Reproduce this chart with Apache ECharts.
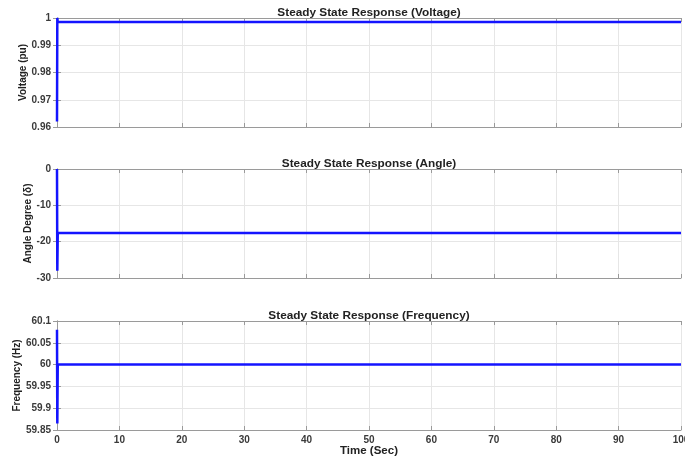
<!DOCTYPE html>
<html>
<head>
<meta charset="utf-8">
<script src="https://cdn.jsdelivr.net/npm/echarts@6/dist/echarts.min.js"></script>
<style>
  html, body { margin: 0; padding: 0; background: #fff; }
  #chart { width: 685px; height: 456px; }
</style>
</head>
<body>
<div id="chart"></div>
<script>
// Time samples (s) and the three responses
const timeSec      = [0, 0.05, 0.12, 0.2, 100];
const voltagePu    = [0.962, 1.0, 0.9985, 0.9985, 0.9985];
const angleDeg     = [0, -28, -17.6, -17.6, -17.6];
const frequencyHz  = [60.08, 59.865, 60.0, 60.0, 60.0];

const titles = [
  'Steady State Response (Voltage)',
  'Steady State Response (Angle)',
  'Steady State Response (Frequency)'
];
const yNames = ['Voltage (pu)', 'Angle Degree (\u03b4)', 'Frequency (Hz)'];
const yRanges = [[0.96, 1, 0.01], [-30, 0, 10], [59.85, 60.1, 0.05]];
const xRange = [0, 100, 10];
const xName = 'Time (Sec)';

const font = 'Liberation Sans, Arial, sans-serif';
const axisColor = '#9a9a9a';
const gridColor = '#e6e6e6';
const labelColor = '#3a3a3a';
const lineColor = '#1414ff';

const gridTops = [18, 169, 321];
const gridH = 109;
const gridL = 57, gridR = 4;
const nameGaps = [29, 24, 35];

const pair = (ys) => timeSec.map((t, i) => [t, ys[i]]);
const seriesData = [pair(voltagePu), pair(angleDeg), pair(frequencyHz)];

const fmt = (v) => String(parseFloat(v.toFixed(4)));

const grid = [], xAxis = [], yAxis = [], series = [], title = [];
for (let k = 0; k < 3; k++) {
  grid.push({ left: gridL, right: gridR, top: gridTops[k], height: gridH, outerBoundsMode: 'none', containLabel: false });
  title.push({
    text: titles[k],
    left: gridL + (685 - gridL - gridR) / 2,
    textAlign: 'center',
    padding: 0,
    top: gridTops[k] - 11,
    textStyle: { fontFamily: font, fontSize: 11.8, fontWeight: 'bold', color: '#222' }
  });
  const last = k === 2;
  // bottom x axis with grid lines
  xAxis.push({
    type: 'value', gridIndex: k, min: xRange[0], max: xRange[1], interval: xRange[2],
    position: 'bottom',
    name: last ? xName : '', nameLocation: 'middle', nameGap: 15, nameMoveOverlap: false,
    nameTextStyle: { fontFamily: font, fontSize: 11.5, fontWeight: 'bold', color: '#222' },
    axisLine: { show: true, onZero: false, lineStyle: { color: axisColor, width: 1 } },
    axisTick: { show: true, inside: true, length: 4, lineStyle: { color: axisColor } },
    axisLabel: { show: last, margin: 5, fontFamily: font, fontSize: 10, fontWeight: 'bold', color: labelColor },
    splitLine: { show: true, lineStyle: { color: gridColor, width: 1 } }
  });
  // top box edge
  xAxis.push({
    type: 'value', gridIndex: k, min: xRange[0], max: xRange[1], interval: xRange[2],
    position: 'top',
    axisLine: { show: true, onZero: false, lineStyle: { color: axisColor, width: 1 } },
    axisTick: { show: true, inside: true, length: 4, lineStyle: { color: axisColor } },
    axisLabel: { show: false }, splitLine: { show: false }
  });
  const [ymin, ymax, yint] = yRanges[k];
  yAxis.push({
    type: 'value', gridIndex: k, min: ymin, max: ymax, interval: yint,
    position: 'left',
    name: yNames[k], nameLocation: 'middle', nameGap: nameGaps[k], nameRotate: 90, nameMoveOverlap: false,
    nameTextStyle: { fontFamily: font, fontSize: 10, fontWeight: 'bold', color: '#222' },
    axisLine: { show: true, lineStyle: { color: axisColor, width: 1 } },
    axisTick: { show: true, inside: true, length: 4, lineStyle: { color: axisColor } },
    axisLabel: { margin: 6, fontFamily: font, fontSize: 10, fontWeight: 'bold', color: labelColor, formatter: fmt },
    splitLine: { show: true, lineStyle: { color: gridColor, width: 1 } }
  });
  // right box edge
  yAxis.push({
    type: 'value', gridIndex: k, min: ymin, max: ymax, interval: yint,
    position: 'right',
    axisLine: { show: true, lineStyle: { color: axisColor, width: 1 } },
    axisTick: { show: true, inside: true, length: 4, lineStyle: { color: axisColor } },
    axisLabel: { show: false }, splitLine: { show: false }
  });
  series.push({
    type: 'line', xAxisIndex: 2 * k, yAxisIndex: 2 * k,
    data: seriesData[k], showSymbol: false, animation: false,
    lineStyle: { color: lineColor, width: 2.5 }
  });
}

const chart = echarts.init(document.getElementById('chart'), null, { renderer: 'canvas' });
chart.setOption({ animation: false, backgroundColor: '#fff', title, grid, xAxis, yAxis, series });
</script>
</body>
</html>
